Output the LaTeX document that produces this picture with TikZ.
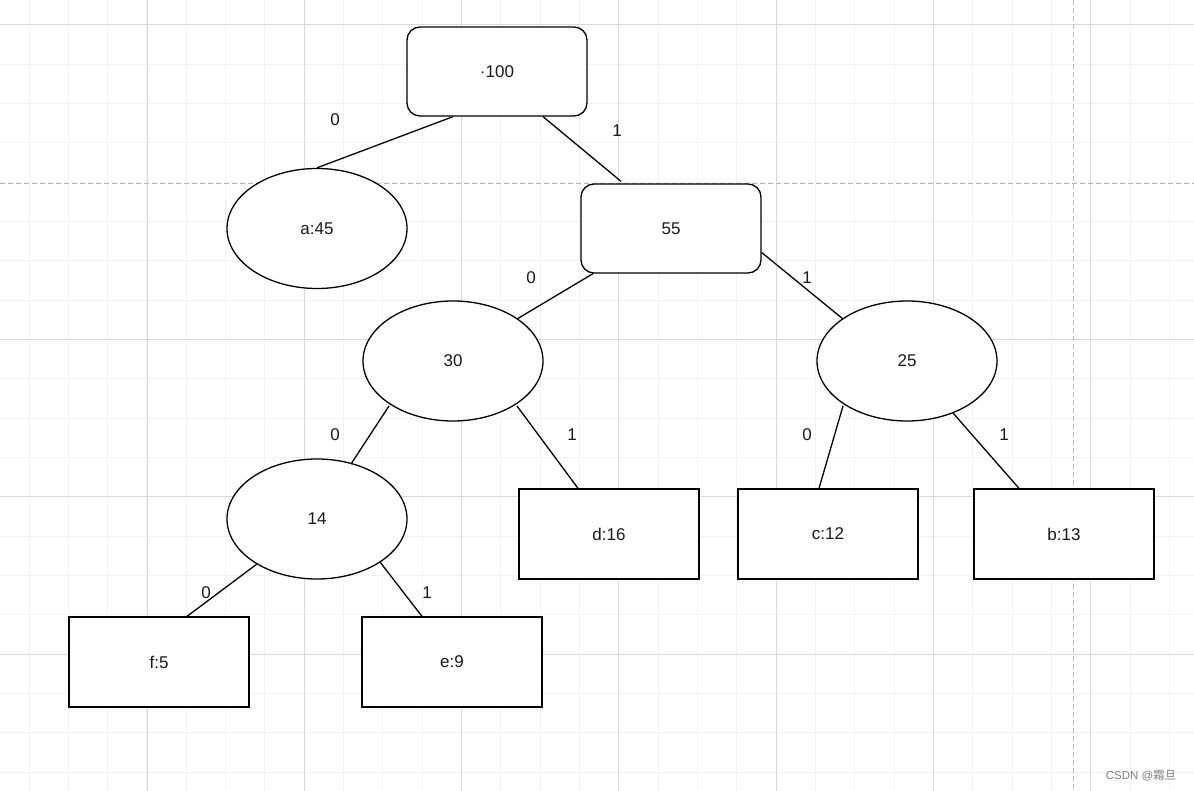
\documentclass[tikz,border=0pt]{standalone}
\usepackage{fontspec}
\setmainfont{Liberation Sans}
\newfontfamily\cjkfont{Noto Sans CJK SC}
\usetikzlibrary{shapes.geometric,calc}
\definecolor{gridminor}{HTML}{F2F2F2}
\definecolor{gridmajor}{HTML}{D9D9D9}
\definecolor{pagebreak}{HTML}{B8B8B8}
\tikzset{
  every node/.style={font=\fontsize{17}{20}\selectfont, text=black!90},
  rbox/.style={draw, line width=1.3pt, rounded corners=13pt, minimum width=180pt, minimum height=89pt, inner sep=0pt, fill=white},
  sbox/.style={draw, line width=1.3pt, minimum width=180pt, minimum height=90pt, inner sep=0pt, fill=white},
  ebox/.style={draw, ellipse, line width=1.3pt, minimum width=180pt, minimum height=120pt, inner sep=0pt, fill=white},
  edge/.style={line width=1.3pt},
  lbl/.style={inner sep=0pt},
}
\begin{document}
\begin{tikzpicture}[x=1pt,y=-1pt]
\useasboundingbox (0,0) rectangle (1194,791);
\fill[white] (0,0) rectangle (1194,791);
% grid minor
\foreach \i in {0,...,30} {
  \pgfmathsetmacro\gx{29+39.325*\i}
  \draw[gridminor, line width=1pt] (\gx,0) -- (\gx,791);
}
\foreach \i in {0,...,20} {
  \pgfmathsetmacro\gy{25+39.325*\i}
  \draw[gridminor, line width=1pt] (0,\gy) -- (1194,\gy);
}
% grid major
\foreach \gx in {147,304.3,461.6,618.9,776.2,933.5,1090.8}
  \draw[gridmajor, line width=1pt] (\gx,0) -- (\gx,791);
\foreach \gy in {25,339.6,496.9,654.2}
  \draw[gridmajor, line width=1pt] (0,\gy) -- (1194,\gy);
% page breaks
\draw[pagebreak, line width=1pt, dash pattern=on 5pt off 3pt] (0,183.5) -- (1194,183.5);
\draw[pagebreak, line width=1pt, dash pattern=on 5pt off 3pt] (1073,0) -- (1073,791);

% nodes
\node[rbox] (root) at (497,71.5) {·100};
\node[ebox] (a) at (317,228.5) {a:45};
\node[rbox] (n55) at (671,228.5) {55};
\node[ebox] (n30) at (453,361) {30};
\node[ebox] (n25) at (907,361) {25};
\node[ebox] (n14) at (317,519) {14};
\node[sbox] (d) at (609,534) {d:16};
\node[sbox] (c) at (828,534) {c:12};
\node[sbox] (b) at (1064,534) {b:13};
\node[sbox] (f) at (159,662) {f:5};
\node[sbox] (e) at (452,662) {e:9};

% edges
\draw[edge] ($(root.south)+(-44,0)$) -- (a.north);
\draw[edge] ($(root.south)+(46,0)$) -- ($(n55.north)+(-50,-2)$);
\draw[edge] ($(n55.south)+(-78,0)$) -- ($(n30.center)+(64,-42)$);
\draw[edge] ($(n55.east)+(0,24)$) -- ($(n25.center)+(-64,-42)$);
\draw[edge] ($(n30.center)+(-64,45)$) -- ($(n14.center)+(34,-55)$);
\draw[edge] ($(n30.center)+(64,45)$) -- ($(d.north)+(-31,0)$);
\draw[edge] ($(n25.center)+(-64,45)$) -- ($(c.north)+(-9,0)$);
\draw[edge] ($(n25.center)+(46,52)$) -- ($(b.north)+(-45,0)$);
\draw[edge] ($(n14.center)+(-60,45)$) -- ($(f.north)+(28,0)$);
\draw[edge] ($(n14.center)+(63,43)$) -- ($(e.north)+(-30,0)$);

% labels
\node[lbl] (l1) at (335,120) {0};
\node[lbl] (l2) at (617,131) {1};
\node[lbl] (l3) at (531,278) {0};
\node[lbl] (l4) at (807,278) {1};
\node[lbl] (l5) at (335,435) {0};
\node[lbl] (l6) at (572,435) {1};
\node[lbl] (l7) at (807,435) {0};
\node[lbl] (l8) at (1004,435) {1};
\node[lbl] (l9) at (206,593) {0};
\node[lbl] (l10) at (427,593) {1};

% watermark
\node[lbl, font=\fontsize{11.5}{13}\selectfont, text=black!50] (wm) at (1141,776) {CSDN @{\cjkfont 霜旦}};
\end{tikzpicture}
\end{document}
